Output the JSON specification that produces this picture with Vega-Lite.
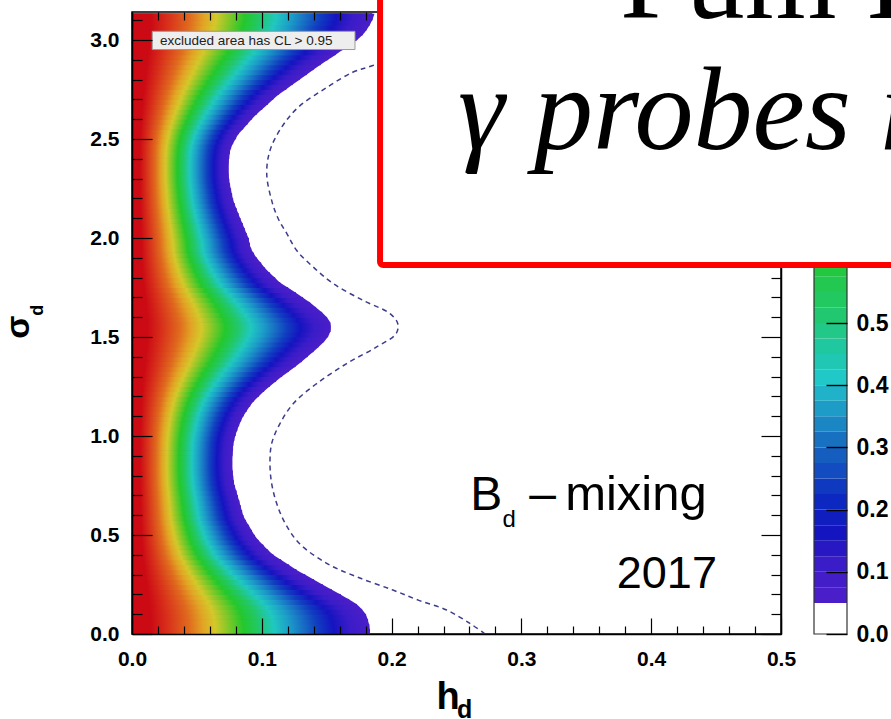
{
 "$schema": "https://vega.github.io/schema/vega-lite/v6.json",
 "width": 649,
 "height": 622,
 "autosize": {"type": "none"},
 "padding": {"left": 132, "top": 12, "right": 110, "bottom": 85},
 "background": "white",
 "config": {"view": {"stroke": "#000", "strokeWidth": 1.5}, "axis": {"grid": false}},
 "datasets": {
  "cells": [
   {"s":0,"t":0.025,"h":0.183,"m":0.183},{"s":0.025,"t":0.05,"h":0.183,"m":0.1825},{"s":0.05,"t":0.075,"h":0.1825,"m":0.1815},{"s":0.075,"t":0.1,"h":0.1815,"m":0.18},{"s":0.1,"t":0.125,"h":0.18,"m":0.177},{"s":0.125,"t":0.15,"h":0.177,"m":0.173},{"s":0.15,"t":0.175,"h":0.173,"m":0.167},{"s":0.175,"t":0.2,"h":0.167,"m":0.1606},{"s":0.2,"t":0.225,"h":0.1606,"m":0.1536},{"s":0.225,"t":0.25,"h":0.1536,"m":0.1467},{"s":0.25,"t":0.275,"h":0.1467,"m":0.1399},{"s":0.275,"t":0.3,"h":0.1399,"m":0.1332},{"s":0.3,"t":0.325,"h":0.1332,"m":0.1265},{"s":0.325,"t":0.35,"h":0.1265,"m":0.1207},{"s":0.35,"t":0.375,"h":0.1207,"m":0.1147},{"s":0.375,"t":0.4,"h":0.1147,"m":0.1088},{"s":0.4,"t":0.425,"h":0.1088,"m":0.1046},{"s":0.425,"t":0.45,"h":0.1046,"m":0.101},{"s":0.45,"t":0.475,"h":0.101,"m":0.0972},{"s":0.475,"t":0.5,"h":0.0972,"m":0.0943},{"s":0.5,"t":0.525,"h":0.0943,"m":0.092},{"s":0.525,"t":0.55,"h":0.092,"m":0.0898},{"s":0.55,"t":0.575,"h":0.0898,"m":0.0875},{"s":0.575,"t":0.6,"h":0.0875,"m":0.0856},{"s":0.6,"t":0.625,"h":0.0856,"m":0.0845},{"s":0.625,"t":0.65,"h":0.0845,"m":0.0834},{"s":0.65,"t":0.675,"h":0.0834,"m":0.0824},{"s":0.675,"t":0.7,"h":0.0824,"m":0.0813},{"s":0.7,"t":0.725,"h":0.0813,"m":0.0802},{"s":0.725,"t":0.75,"h":0.0802,"m":0.079},{"s":0.75,"t":0.775,"h":0.079,"m":0.0782},{"s":0.775,"t":0.8,"h":0.0782,"m":0.0777},{"s":0.8,"t":0.825,"h":0.0777,"m":0.0773},{"s":0.825,"t":0.85,"h":0.0773,"m":0.077},{"s":0.85,"t":0.875,"h":0.077,"m":0.077},{"s":0.875,"t":0.9,"h":0.077,"m":0.077},{"s":0.9,"t":0.925,"h":0.0772,"m":0.0772},{"s":0.925,"t":0.95,"h":0.0775,"m":0.0775},{"s":0.95,"t":0.975,"h":0.0778,"m":0.0778},{"s":0.975,"t":1,"h":0.0785,"m":0.0785},{"s":1,"t":1.025,"h":0.0795,"m":0.0795},{"s":1.025,"t":1.05,"h":0.0808,"m":0.0808},{"s":1.05,"t":1.075,"h":0.0822,"m":0.0822},{"s":1.075,"t":1.1,"h":0.0838,"m":0.0838},{"s":1.1,"t":1.125,"h":0.0857,"m":0.0857},{"s":1.125,"t":1.15,"h":0.0882,"m":0.0882},{"s":1.15,"t":1.175,"h":0.0908,"m":0.0908},{"s":1.175,"t":1.2,"h":0.0937,"m":0.0937},{"s":1.2,"t":1.225,"h":0.0975,"m":0.0975},{"s":1.225,"t":1.25,"h":0.1015,"m":0.1015},{"s":1.25,"t":1.275,"h":0.106,"m":0.106},{"s":1.275,"t":1.3,"h":0.1107,"m":0.1107},{"s":1.3,"t":1.325,"h":0.1154,"m":0.1154},{"s":1.325,"t":1.35,"h":0.1205,"m":0.1205},{"s":1.35,"t":1.375,"h":0.1257,"m":0.1257},{"s":1.375,"t":1.4,"h":0.1306,"m":0.1306},{"s":1.4,"t":1.425,"h":0.1351,"m":0.1351},{"s":1.425,"t":1.45,"h":0.1396,"m":0.1396},{"s":1.45,"t":1.475,"h":0.1437,"m":0.1437},{"s":1.475,"t":1.5,"h":0.1477,"m":0.1477},{"s":1.5,"t":1.525,"h":0.1508,"m":0.1508},{"s":1.525,"t":1.55,"h":0.1526,"m":0.1526},{"s":1.55,"t":1.575,"h":0.1532,"m":0.1525},{"s":1.575,"t":1.6,"h":0.1525,"m":0.15},{"s":1.6,"t":1.625,"h":0.15,"m":0.1462},{"s":1.625,"t":1.65,"h":0.1462,"m":0.1415},{"s":1.65,"t":1.675,"h":0.1415,"m":0.1369},{"s":1.675,"t":1.7,"h":0.1369,"m":0.1315},{"s":1.7,"t":1.725,"h":0.1315,"m":0.1259},{"s":1.725,"t":1.75,"h":0.1259,"m":0.12},{"s":1.75,"t":1.775,"h":0.12,"m":0.114},{"s":1.775,"t":1.8,"h":0.114,"m":0.11},{"s":1.8,"t":1.825,"h":0.11,"m":0.106},{"s":1.825,"t":1.85,"h":0.106,"m":0.1022},{"s":1.85,"t":1.875,"h":0.1022,"m":0.0992},{"s":1.875,"t":1.9,"h":0.0992,"m":0.096},{"s":1.9,"t":1.925,"h":0.096,"m":0.0935},{"s":1.925,"t":1.95,"h":0.0935,"m":0.0915},{"s":1.95,"t":1.975,"h":0.0915,"m":0.0905},{"s":1.975,"t":2,"h":0.0905,"m":0.0897},{"s":2,"t":2.025,"h":0.0897,"m":0.088},{"s":2.025,"t":2.05,"h":0.088,"m":0.0865},{"s":2.05,"t":2.075,"h":0.0865,"m":0.085},{"s":2.075,"t":2.1,"h":0.085,"m":0.0833},{"s":2.1,"t":2.125,"h":0.0833,"m":0.0818},{"s":2.125,"t":2.15,"h":0.0818,"m":0.0803},{"s":2.15,"t":2.175,"h":0.0803,"m":0.0788},{"s":2.175,"t":2.2,"h":0.0788,"m":0.0776},{"s":2.2,"t":2.225,"h":0.0776,"m":0.0768},{"s":2.225,"t":2.25,"h":0.0768,"m":0.076},{"s":2.25,"t":2.275,"h":0.076,"m":0.0752},{"s":2.275,"t":2.3,"h":0.0752,"m":0.0746},{"s":2.3,"t":2.325,"h":0.0746,"m":0.0742},{"s":2.325,"t":2.35,"h":0.0742,"m":0.0741},{"s":2.35,"t":2.375,"h":0.0741,"m":0.0741},{"s":2.375,"t":2.4,"h":0.0742,"m":0.0742},{"s":2.4,"t":2.425,"h":0.0746,"m":0.0746},{"s":2.425,"t":2.45,"h":0.0751,"m":0.0751},{"s":2.45,"t":2.475,"h":0.076,"m":0.076},{"s":2.475,"t":2.5,"h":0.0776,"m":0.0776},{"s":2.5,"t":2.525,"h":0.0798,"m":0.0798},{"s":2.525,"t":2.55,"h":0.082,"m":0.082},{"s":2.55,"t":2.575,"h":0.0854,"m":0.0854},{"s":2.575,"t":2.6,"h":0.0888,"m":0.0888},{"s":2.6,"t":2.625,"h":0.0922,"m":0.0922},{"s":2.625,"t":2.65,"h":0.096,"m":0.096},{"s":2.65,"t":2.675,"h":0.1002,"m":0.1002},{"s":2.675,"t":2.7,"h":0.1044,"m":0.1044},{"s":2.7,"t":2.725,"h":0.1086,"m":0.1086},{"s":2.725,"t":2.75,"h":0.113,"m":0.113},{"s":2.75,"t":2.775,"h":0.1186,"m":0.1186},{"s":2.775,"t":2.8,"h":0.1237,"m":0.1237},{"s":2.8,"t":2.825,"h":0.129,"m":0.129},{"s":2.825,"t":2.85,"h":0.1344,"m":0.1344},{"s":2.85,"t":2.875,"h":0.1397,"m":0.1397},{"s":2.875,"t":2.9,"h":0.1452,"m":0.1452},{"s":2.9,"t":2.925,"h":0.1509,"m":0.1509},{"s":2.925,"t":2.95,"h":0.1566,"m":0.1566},{"s":2.95,"t":2.975,"h":0.162,"m":0.162},{"s":2.975,"t":3,"h":0.168,"m":0.168},{"s":3,"t":3.025,"h":0.1733,"m":0.1733},{"s":3.025,"t":3.05,"h":0.1775,"m":0.1775},{"s":3.05,"t":3.075,"h":0.1805,"m":0.1805},{"s":3.075,"t":3.1,"h":0.183,"m":0.183},{"s":3.1,"t":3.133,"h":0.185,"m":0.185},{"s":3.133,"t":3.133,"h":0.1868,"m":0.1868}
  ],
  "dash": [
   {"s":0,"h":0.272},{"s":0.055,"h":0.26},{"s":0.121,"h":0.2424},{"s":0.17,"h":0.221},{"s":0.222,"h":0.201},{"s":0.289,"h":0.173},{"s":0.357,"h":0.15},{"s":0.457,"h":0.129},{"s":0.559,"h":0.118},{"s":0.659,"h":0.1115},{"s":0.76,"h":0.1076},{"s":0.861,"h":0.1063},{"s":0.962,"h":0.1076},{"s":1.063,"h":0.114},{"s":1.164,"h":0.1243},{"s":1.265,"h":0.1423},{"s":1.366,"h":0.1654},{"s":1.45,"h":0.1885},{"s":1.517,"h":0.2035},{"s":1.568,"h":0.2047},{"s":1.618,"h":0.1988},{"s":1.685,"h":0.178},{"s":1.77,"h":0.155},{"s":1.853,"h":0.1397},{"s":1.937,"h":0.1269},{"s":2.02,"h":0.1195},{"s":2.1,"h":0.1125},{"s":2.19,"h":0.1076},{"s":2.324,"h":0.1038},{"s":2.442,"h":0.1063},{"s":2.56,"h":0.1153},{"s":2.66,"h":0.128},{"s":2.76,"h":0.15},{"s":2.837,"h":0.17},{"s":2.87,"h":0.185},{"s":2.95,"h":0.215},{"s":3.05,"h":0.25},{"s":3.14,"h":0.272}
  ],
  "cb": [
   {"lo":0.05,"hi":0.075},{"lo":0.075,"hi":0.1},{"lo":0.1,"hi":0.125},{"lo":0.125,"hi":0.15},{"lo":0.15,"hi":0.175},{"lo":0.175,"hi":0.2},{"lo":0.2,"hi":0.225},{"lo":0.225,"hi":0.25},{"lo":0.25,"hi":0.275},{"lo":0.275,"hi":0.3},{"lo":0.3,"hi":0.325},{"lo":0.325,"hi":0.35},{"lo":0.35,"hi":0.375},{"lo":0.375,"hi":0.4},{"lo":0.4,"hi":0.425},{"lo":0.425,"hi":0.45},{"lo":0.45,"hi":0.475},{"lo":0.475,"hi":0.5},{"lo":0.5,"hi":0.525},{"lo":0.525,"hi":0.55},{"lo":0.55,"hi":0.575},{"lo":0.575,"hi":0.6},{"lo":0.6,"hi":0.625},{"lo":0.625,"hi":0.65},{"lo":0.65,"hi":0.675},{"lo":0.675,"hi":0.7},{"lo":0.7,"hi":0.725},{"lo":0.725,"hi":0.75},{"lo":0.75,"hi":0.775},{"lo":0.775,"hi":0.8},{"lo":0.8,"hi":0.825},{"lo":0.825,"hi":0.85},{"lo":0.85,"hi":0.875},{"lo":0.875,"hi":0.9},{"lo":0.9,"hi":0.925},{"lo":0.925,"hi":0.95},{"lo":0.95,"hi":0.975},{"lo":0.975,"hi":1}
  ]
 },
 "layer": [
  {
   "layer": [
    {
     "data": {"name": "cells"},
     "mark": {"type": "area", "orient": "horizontal", "interpolate": "monotone", "color": "#4a1ec8"},
     "encoding": {
      "x": {"field": "h", "type": "quantitative", "scale": {"domain": [0, 0.5], "nice": false, "zero": false},
       "axis": {"orient": "bottom", "zindex": 1, "values": [0,0.02,0.04,0.06,0.08,0.1,0.12,0.14,0.16,0.18,0.2,0.22,0.24,0.26,0.28,0.3,0.32,0.34,0.36,0.38,0.4,0.42,0.44,0.46,0.48,0.5],
        "tickSize": {"condition": {"test": "abs(datum.value*10-round(datum.value*10))<0.001", "value": -16}, "value": -8},
        "labelExpr": "abs(datum.value*10-round(datum.value*10))<0.001 ? format(datum.value, '.1f') : ''",
        "labelOverlap": false, "labelFlush": false, "labelPadding": 30, "labelFont": "Liberation Sans", "labelFontSize": 21, "labelFontWeight": "bold", "labelColor": "#000",
        "tickColor": "#000", "tickWidth": 1.2, "domainColor": "#000", "domainWidth": 1.5,
        "title": "h", "titleFont": "Liberation Sans", "titleFontSize": 38, "titleFontWeight": "bold", "titleColor": "#000", "titleX": 315.5, "titleY": 74, "titleAlign": "center", "titleBaseline": "alphabetic"}},
      "x2": {"datum": 0},
      "y": {"field": "s", "type": "quantitative", "scale": {"domain": [0, 3.14159], "nice": false, "zero": false},
       "axis": {"orient": "left", "zindex": 1, "values": [0,0.1,0.2,0.3,0.4,0.5,0.6,0.7,0.8,0.9,1,1.1,1.2,1.3,1.4,1.5,1.6,1.7,1.8,1.9,2,2.1,2.2,2.3,2.4,2.5,2.6,2.7,2.8,2.9,3,3.1],
        "tickSize": {"condition": {"test": "abs(datum.value*2-round(datum.value*2))<0.001", "value": -20}, "value": -10},
        "labelExpr": "abs(datum.value*2-round(datum.value*2))<0.001 ? format(datum.value, '.1f') : ''",
        "labelOverlap": false, "labelFlush": false, "labelPadding": 33, "labelFont": "Liberation Sans", "labelFontSize": 21, "labelFontWeight": "bold", "labelColor": "#000",
        "tickColor": "#000", "tickWidth": 1.2, "domainColor": "#000", "domainWidth": 1.5,
        "title": "σ", "titleFont": "Liberation Sans", "titleFontSize": 34, "titleFontWeight": "bold", "titleColor": "#000", "titleAngle": 270, "titleX": -104, "titleY": 314.5, "titleAlign": "center", "titleBaseline": "alphabetic"}}
     }
    },
    {
     "data": {"name": "cells"},
     "mark": {"type": "rect",
      "fill": {"gradient": "linear", "x1": 0, "y1": 0, "x2": 1, "y2": 0, "stops": [
       {"offset": 0, "color": "#cc0a14"}, {"offset": 0.08, "color": "#cc0a14"}, {"offset": 0.15, "color": "#d8301a"}, {"offset": 0.24, "color": "#e06a1e"}, {"offset": 0.3, "color": "#e2a424"}, {"offset": 0.35, "color": "#d4c82a"}, {"offset": 0.41, "color": "#7cc828"}, {"offset": 0.47, "color": "#24c82c"}, {"offset": 0.53, "color": "#22c864"}, {"offset": 0.6, "color": "#20c8c0"}, {"offset": 0.66, "color": "#1ca0c8"}, {"offset": 0.72, "color": "#1870c4"}, {"offset": 0.78, "color": "#1040c0"}, {"offset": 0.85, "color": "#1414c0"}, {"offset": 0.92, "color": "#3a1cc8"}, {"offset": 1, "color": "#4a1ec8"}]},
      "stroke": {"gradient": "linear", "x1": 0, "y1": 0, "x2": 1, "y2": 0, "stops": [
       {"offset": 0, "color": "#cc0a14"}, {"offset": 0.08, "color": "#cc0a14"}, {"offset": 0.15, "color": "#d8301a"}, {"offset": 0.24, "color": "#e06a1e"}, {"offset": 0.3, "color": "#e2a424"}, {"offset": 0.35, "color": "#d4c82a"}, {"offset": 0.41, "color": "#7cc828"}, {"offset": 0.47, "color": "#24c82c"}, {"offset": 0.53, "color": "#22c864"}, {"offset": 0.6, "color": "#20c8c0"}, {"offset": 0.66, "color": "#1ca0c8"}, {"offset": 0.72, "color": "#1870c4"}, {"offset": 0.78, "color": "#1040c0"}, {"offset": 0.85, "color": "#1414c0"}, {"offset": 0.92, "color": "#3a1cc8"}, {"offset": 1, "color": "#4a1ec8"}]},
      "strokeWidth": 1},
     "encoding": {
      "x": {"field": "m", "type": "quantitative", "scale": {"domain": [0, 0.5], "nice": false, "zero": false},
       "axis": {"orient": "top", "zindex": 1, "values": [0,0.02,0.04,0.06,0.08,0.1,0.12,0.14,0.16,0.18],
        "tickSize": {"condition": {"test": "abs(datum.value*10-round(datum.value*10))<0.001", "value": -16}, "value": -8},
        "labels": false, "domain": false, "tickColor": "#000", "tickWidth": 1.2, "title": null}},
      "x2": {"datum": 0},
      "y": {"field": "s", "type": "quantitative", "scale": {"domain": [0, 3.14159], "nice": false, "zero": false},
       "axis": {"orient": "right", "zindex": 0, "values": [0,0.1,0.2,0.3,0.4,0.5,0.6,0.7,0.8,0.9,1,1.1,1.2,1.3,1.4,1.5,1.6,1.7,1.8,1.9,2,2.1,2.2,2.3,2.4,2.5,2.6,2.7,2.8,2.9,3,3.1],
        "tickSize": {"condition": {"test": "abs(datum.value*2-round(datum.value*2))<0.001", "value": -20}, "value": -10},
        "labels": false, "domainColor": "#000", "domainWidth": 1.5, "tickColor": "#000", "tickWidth": 1.2, "title": null}},
      "y2": {"field": "t"}
     }
    },
    {
     "data": {"values": [{}]},
     "mark": {"type": "rect", "fill": "#eeeeee", "stroke": "#9a9a9a", "strokeWidth": 1},
     "encoding": {
      "x": {"datum": 0.0156, "type": "quantitative", "scale": {"domain": [0, 0.5], "nice": false, "zero": false}, "axis": null},
      "x2": {"datum": 0.1718},
      "y": {"datum": 2.952, "type": "quantitative", "scale": {"domain": [0, 3.14159], "nice": false, "zero": false}, "axis": null},
      "y2": {"datum": 3.044}
     }
    },
    {
     "data": {"values": [{}]},
     "mark": {"type": "text", "text": "excluded area has CL > 0.95", "align": "left", "baseline": "middle", "font": "Liberation Sans", "fontSize": 13.5, "color": "#222"},
     "encoding": {
      "x": {"datum": 0.0216, "type": "quantitative", "scale": {"domain": [0, 0.5], "nice": false, "zero": false}, "axis": null},
      "y": {"datum": 2.997, "type": "quantitative", "scale": {"domain": [0, 3.14159], "nice": false, "zero": false}, "axis": null}
     }
    },
    {
     "data": {"name": "dash"},
     "mark": {"type": "line", "interpolate": "catmull-rom", "strokeDash": [5, 4], "color": "#3c3c8c", "strokeWidth": 1.5},
     "encoding": {
      "x": {"field": "h", "type": "quantitative", "scale": {"domain": [0, 0.5], "nice": false, "zero": false}, "axis": null},
      "y": {"field": "s", "type": "quantitative", "scale": {"domain": [0, 3.14159], "nice": false, "zero": false}, "axis": null},
      "order": {"field": "s", "type": "quantitative"}
     }
    },
    {
     "data": {"values": [{}]},
     "mark": {"type": "text", "text": "B", "align": "left", "baseline": "alphabetic", "font": "Liberation Sans", "fontSize": 48, "color": "#000"},
     "encoding": {
      "x": {"datum": 0.2605, "type": "quantitative", "scale": {"domain": [0, 0.5], "nice": false, "zero": false}, "axis": null},
      "y": {"datum": 0.6256, "type": "quantitative", "scale": {"domain": [0, 3.14159], "nice": false, "zero": false}, "axis": null}
     }
    },
    {
     "data": {"values": [{}]},
     "mark": {"type": "text", "text": "d", "align": "left", "baseline": "alphabetic", "font": "Liberation Sans", "fontSize": 24, "color": "#000"},
     "encoding": {
      "x": {"datum": 0.2855, "type": "quantitative", "scale": {"domain": [0, 0.5], "nice": false, "zero": false}, "axis": null},
      "y": {"datum": 0.54, "type": "quantitative", "scale": {"domain": [0, 3.14159], "nice": false, "zero": false}, "axis": null}
     }
    },
    {
     "data": {"values": [{}]},
     "mark": {"type": "text", "text": "–", "align": "left", "baseline": "alphabetic", "font": "Liberation Sans", "fontSize": 48, "color": "#000"},
     "encoding": {
      "x": {"datum": 0.3061, "type": "quantitative", "scale": {"domain": [0, 0.5], "nice": false, "zero": false}, "axis": null},
      "y": {"datum": 0.6256, "type": "quantitative", "scale": {"domain": [0, 3.14159], "nice": false, "zero": false}, "axis": null}
     }
    },
    {
     "data": {"values": [{}]},
     "mark": {"type": "text", "text": "mixing", "align": "left", "baseline": "alphabetic", "font": "Liberation Sans", "fontSize": 49, "color": "#000"},
     "encoding": {
      "x": {"datum": 0.3337, "type": "quantitative", "scale": {"domain": [0, 0.5], "nice": false, "zero": false}, "axis": null},
      "y": {"datum": 0.6256, "type": "quantitative", "scale": {"domain": [0, 3.14159], "nice": false, "zero": false}, "axis": null}
     }
    },
    {
     "data": {"values": [{}]},
     "mark": {"type": "text", "text": "2017", "align": "left", "baseline": "alphabetic", "font": "Liberation Sans", "fontSize": 45, "color": "#000"},
     "encoding": {
      "x": {"datum": 0.3735, "type": "quantitative", "scale": {"domain": [0, 0.5], "nice": false, "zero": false}, "axis": null},
      "y": {"datum": 0.232, "type": "quantitative", "scale": {"domain": [0, 3.14159], "nice": false, "zero": false}, "axis": null}
     }
    },
    {
     "data": {"values": [{}]},
     "mark": {"type": "text", "text": "d", "align": "left", "baseline": "alphabetic", "font": "Liberation Sans", "fontSize": 25, "fontWeight": "bold", "color": "#000"},
     "encoding": {
      "x": {"datum": 0.2504, "type": "quantitative", "scale": {"domain": [0, 0.5], "nice": false, "zero": false}, "axis": null},
      "y": {"datum": -0.4238, "type": "quantitative", "scale": {"domain": [0, 3.14159], "nice": false, "zero": false}, "axis": null}
     }
    },
    {
     "data": {"values": [{}]},
     "mark": {"type": "text", "text": "d", "align": "center", "baseline": "alphabetic", "angle": 270, "font": "Liberation Sans", "fontSize": 18, "fontWeight": "bold", "color": "#000"},
     "encoding": {
      "x": {"datum": -0.0686, "type": "quantitative", "scale": {"domain": [0, 0.5], "nice": false, "zero": false}, "axis": null},
      "y": {"datum": 1.635, "type": "quantitative", "scale": {"domain": [0, 3.14159], "nice": false, "zero": false}, "axis": null}
     }
    }
   ],
   "resolve": {"axis": {"x": "independent", "y": "independent"}}
  },
  {
   "layer": [
    {
     "data": {"name": "cb"},
     "mark": {"type": "rect"},
     "encoding": {
      "x": {"datum": 0, "type": "quantitative", "scale": {"domain": [0, 1], "range": [682, 715], "nice": false, "zero": false}, "axis": null},
      "x2": {"datum": 1},
      "y": {"field": "lo", "type": "quantitative", "scale": {"domain": [0, 1], "nice": false, "zero": false},
       "axis": {"orient": "right", "offset": 66, "zindex": 1, "values": [0,0.1,0.2,0.3,0.4,0.5], "format": ".1f",
        "tickSize": {"condition": {"test": "datum.value >= 0", "value": -21}, "value": -21}, "labelPadding": 30,
        "labelFont": "Liberation Sans", "labelFontSize": 23, "labelFontWeight": "bold", "labelColor": "#000", "labelOverlap": false, "labelFlush": false,
        "domain": false, "tickColor": "#000", "tickWidth": 1.4, "title": null}},
      "y2": {"field": "hi"},
      "color": {"field": "lo", "type": "quantitative", "legend": null,
       "scale": {"type": "linear", "interpolate": "rgb", "domain": [0.05,0.1,0.15,0.2,0.25,0.3,0.35,0.4,0.45,0.5,0.6,0.7,0.8,0.9,1.0],
        "range": ["#4a1ec8","#3a1cc8","#1414c0","#0c28c0","#124cc0","#1870c0","#1e9cc8","#20c8c8","#20c8a0","#22c870","#22c830","#a0c828","#e0a022","#e05a1c","#cc0a14"]}}
     }
    },
    {
     "data": {"values": [{}]},
     "mark": {"type": "rect", "fill": "transparent", "stroke": "#333", "strokeWidth": 1.2},
     "encoding": {
      "x": {"datum": 0, "type": "quantitative", "scale": {"domain": [0, 1], "range": [682, 715], "nice": false, "zero": false}, "axis": null},
      "x2": {"datum": 1},
      "y": {"datum": 0, "type": "quantitative", "scale": {"domain": [0, 1], "nice": false, "zero": false}, "axis": null},
      "y2": {"datum": 1}
     }
    }
   ],
   "resolve": {"axis": {"x": "independent", "y": "independent"}}
  },
  {
   "layer": [
    {
     "data": {"values": [{}]},
     "mark": {"type": "rect", "fill": "white", "stroke": "#ff0000", "strokeWidth": 6, "cornerRadius": 3},
     "encoding": {
      "x": {"datum": 0.1911, "type": "quantitative", "scale": {"domain": [0, 0.5], "nice": false, "zero": false}, "axis": null},
      "x2": {"datum": 0.75},
      "y": {"datum": 1.864, "type": "quantitative", "scale": {"domain": [0, 3.14159], "nice": false, "zero": false}, "axis": null},
      "y2": {"datum": 3.6}
     }
    },
    {
     "data": {"values": [{}]},
     "mark": {"type": "text", "text": "Fum I", "align": "left", "baseline": "alphabetic", "font": "Liberation Serif", "fontSize": 118, "color": "#000"},
     "encoding": {
      "x": {"datum": 0.376, "type": "quantitative", "scale": {"domain": [0, 0.5], "nice": false, "zero": false}, "axis": null},
      "y": {"datum": 3.113, "type": "quantitative", "scale": {"domain": [0, 3.14159], "nice": false, "zero": false}, "axis": null}
     }
    },
    {
     "data": {"values": [{}]},
     "mark": {"type": "text", "text": "γ probes new physics", "align": "left", "baseline": "alphabetic", "font": "Liberation Serif", "fontStyle": "italic", "fontSize": 118, "color": "#000"},
     "encoding": {
      "x": {"datum": 0.2512, "type": "quantitative", "scale": {"domain": [0, 0.5], "nice": false, "zero": false}, "axis": null},
      "y": {"datum": 2.452, "type": "quantitative", "scale": {"domain": [0, 3.14159], "nice": false, "zero": false}, "axis": null}
     }
    }
   ]
  }
 ],
 "resolve": {"scale": {"x": "independent", "y": "independent", "color": "independent"}, "axis": {"x": "independent", "y": "independent"}}
}
